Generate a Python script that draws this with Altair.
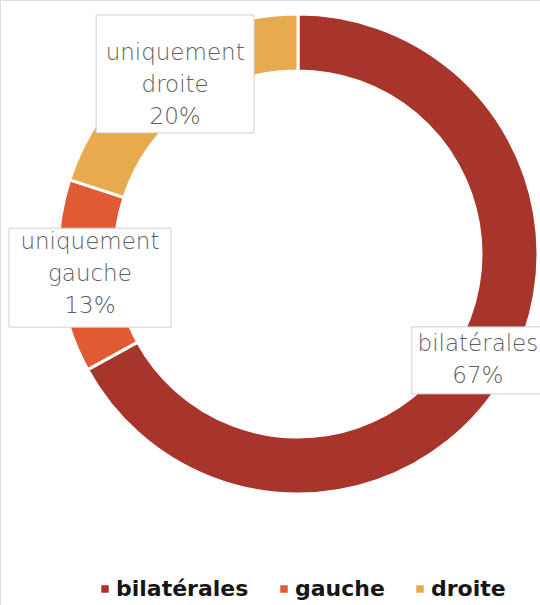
import altair as alt
import pandas as pd

# ---- data ----
categories = ["bilatérales", "gauche", "droite"]
label_names = ["bilatérales", "uniquement\ngauche", "uniquement\ndroite"]
percentages = [67, 13, 20]

# ---- styles ----
colors = ["#A8352C", "#E05B33", "#E8AA4E"]
W, H = 540, 605
CX, CY = 298, 254
R_OUT, R_IN = 240, 183
R_LABEL = 209
LINE_H = 32
# label box (width, height, vertical shift relative to label anchor)
BOX = {"droite": (158, 118, -11), "gauche": (162, 99, 4), "bilatérales": (132, 67, 0)}

df = pd.DataFrame({"categorie": categories, "etiquette": label_names, "pourcentage": percentages})

base = (
    alt.Chart(df)
    .transform_window(rang="row_number()")
    .transform_window(cumul="sum(pourcentage)", frame=[None, 0])
    .transform_joinaggregate(total="sum(pourcentage)")
    .transform_calculate(
        milieu="(datum.cumul - datum.pourcentage / 2) / datum.total * 2 * PI",
        px=f"{CX} + {R_LABEL} * sin(datum.milieu)",
        py=f"{CY} - {R_LABEL} * cos(datum.milieu)",
        texte="datum.etiquette + '\\n' + datum.pourcentage + '%'",
    )
    .transform_calculate(
        pyt=f"datum.py - (length(split(datum.texte, '\\n')) - 1) * {LINE_H / 2}"
    )
)

xenc = alt.X("px:Q", scale=alt.Scale(domain=[0, W], nice=False, zero=False), axis=None)
yenc = alt.Y("py:Q", scale=alt.Scale(domain=[0, H], nice=False, zero=False, reverse=True), axis=None)
ytxt = alt.Y("pyt:Q", scale=alt.Scale(domain=[0, H], nice=False, zero=False, reverse=True), axis=None)

color = alt.Color(
    "categorie:N",
    scale=alt.Scale(domain=categories, range=colors),
    sort=categories,
    legend=alt.Legend(
        title=None,
        orient="none",
        legendX=94,
        legendY=578,
        direction="horizontal",
        symbolType="square",
        symbolSize=56,
        symbolStrokeWidth=0,
        labelFont="DejaVu Sans",
        labelFontWeight="bold",
        labelFontSize=22,
        labelColor="#161616",
        labelOffset=0,
        columnPadding=24,
    ),
)

arcs = base.mark_arc(
    outerRadius=R_OUT, innerRadius=R_IN, stroke="white", strokeWidth=3
).encode(
    theta=alt.Theta("pourcentage:Q", stack=True),
    order=alt.Order("rang:Q"),
    color=color,
    x=alt.value(CX),
    y=alt.value(CY),
)


def rect_path(w, h, dy):
    return (
        f"M{-w/2},{-h/2 + dy}L{w/2},{-h/2 + dy}"
        f"L{w/2},{h/2 + dy}L{-w/2},{h/2 + dy}Z"
    )


boxes = []
for cat in categories:
    w, h, dy = BOX[cat]
    boxes.append(
        base.transform_filter(alt.datum.categorie == cat)
        .mark_point(
            shape=rect_path(w, h, dy),
            size=4,
            filled=True,
            fill="white",
            stroke="#cfcfcf",
            strokeWidth=1,
            opacity=1,
        )
        .encode(x=xenc, y=yenc)
    )

texts = base.mark_text(
    font="DejaVu Sans",
    fontSize=23,
    fontWeight=300,
    color="#5e5e5e",
    lineBreak="\n",
    lineHeight=LINE_H,
    align="center",
    baseline="middle",
).encode(x=xenc, y=ytxt, text="texte:N")

chart = (
    alt.layer(arcs, *boxes, texts)
    .properties(width=W, height=H, autosize=alt.AutoSizeParams(type="none"), padding=0)
    .configure_view(stroke=None)
    .configure(background="white")
)

chart.save("out.html", embed_options={"renderer": "svg", "actions": False})
